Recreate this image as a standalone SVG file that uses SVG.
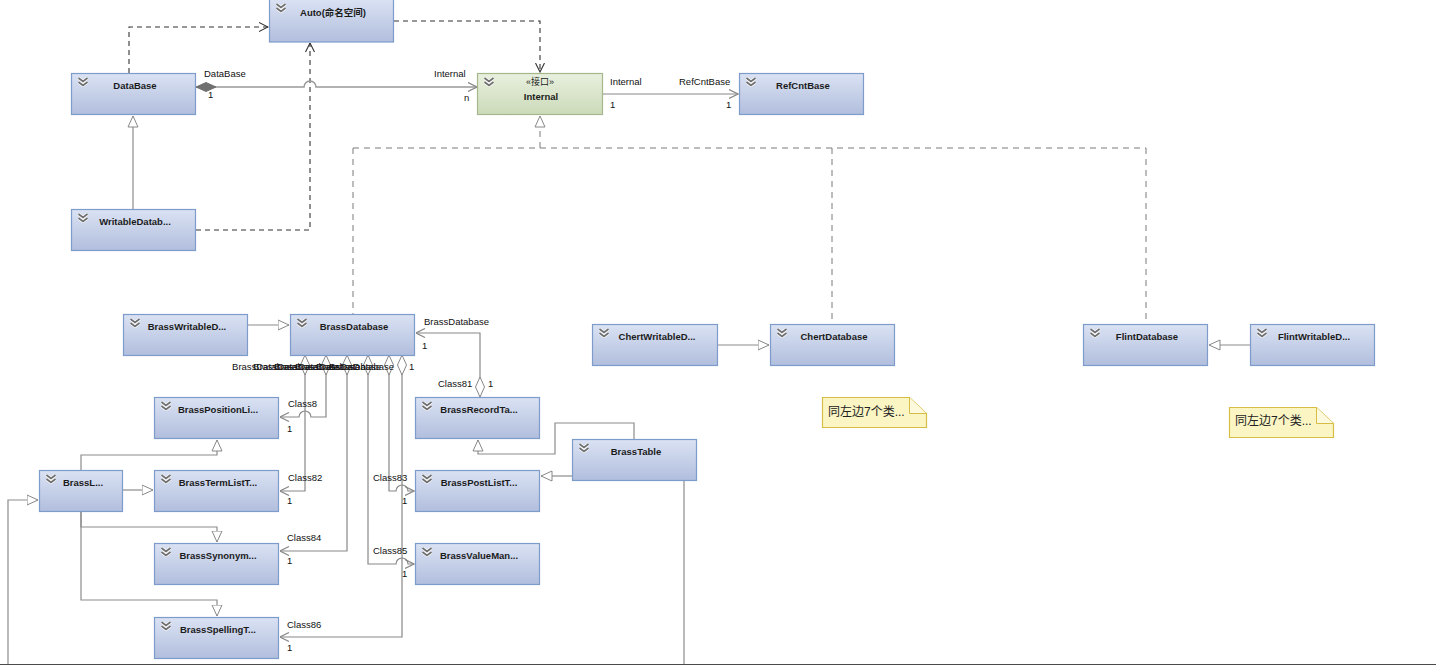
<svg xmlns="http://www.w3.org/2000/svg" xmlns:xlink="http://www.w3.org/1999/xlink" width="1436" height="665" viewBox="0 0 1436 665">
<style>
.cls{fill:url(#gBlue);stroke:#7d9ccb;stroke-width:1.2}
.ifc{fill:url(#gGreen);stroke:#a7b78c;stroke-width:1.2}
.t{font-family:"Liberation Sans","Noto Sans CJK SC",sans-serif;font-weight:bold;font-size:9.5px;fill:#1b1b1b;text-anchor:middle}
.st{font-family:"Liberation Sans","Noto Sans CJK SC",sans-serif;font-size:9px;fill:#1b1b1b;text-anchor:middle}
.lb{font-family:"Liberation Sans",sans-serif;font-size:9.5px;fill:#111}
.lbe{font-family:"Liberation Sans",sans-serif;font-size:9.5px;fill:#111;text-anchor:end}
.note{fill:#fbf5c4;stroke:#d6bd45;stroke-width:1.2}
.nt{font-family:"Liberation Sans","Noto Sans CJK SC",sans-serif;font-size:12px;fill:#222}
.dep{fill:none;stroke:#333;stroke-width:1.1;stroke-dasharray:5,4}
.real{fill:none;stroke:#7a7a7a;stroke-width:1;stroke-dasharray:6,5}
.gen{fill:none;stroke:#8c8c8c;stroke-width:1.2}
.asc{fill:none;stroke:#999;stroke-width:1.5}
.asc2{fill:none;stroke:#888;stroke-width:1.2}
</style>
<defs>
<linearGradient id="gBlue" x1="0" y1="0" x2="0" y2="1">
<stop offset="0" stop-color="#dae2f3"/>
<stop offset="1" stop-color="#b1bedd"/>
</linearGradient>
<linearGradient id="gGreen" x1="0" y1="0" x2="0" y2="1">
<stop offset="0" stop-color="#e8f0de"/>
<stop offset="1" stop-color="#ccdab9"/>
</linearGradient>
<symbol id="chev" viewBox="0 0 12 10">
<polyline points="1.5,1 6,4.5 10.5,1" fill="none" stroke="#fff" stroke-width="3"/>
<polyline points="1.5,5 6,8.5 10.5,5" fill="none" stroke="#fff" stroke-width="3"/>
<polyline points="1.5,1 6,4.5 10.5,1" fill="none" stroke="#6e6e6e" stroke-width="1.7"/>
<polyline points="1.5,5 6,8.5 10.5,5" fill="none" stroke="#6e6e6e" stroke-width="1.7"/>
</symbol>
<marker id="openDark" viewBox="0 0 10 10" refX="9.5" refY="5" markerWidth="10" markerHeight="10" markerUnits="userSpaceOnUse" orient="auto">
<path d="M0.5,0.5 L9.5,5 L0.5,9.5" fill="none" stroke="#333" stroke-width="1.1"/>
</marker>
<marker id="openGray" viewBox="0 0 10 10" refX="9.5" refY="5" markerWidth="10" markerHeight="10" markerUnits="userSpaceOnUse" orient="auto">
<path d="M0.5,0.5 L9.5,5 L0.5,9.5" fill="none" stroke="#888" stroke-width="1.2"/>
</marker>
<marker id="tri" viewBox="0 0 12 12" refX="11.5" refY="6" markerWidth="12" markerHeight="12" markerUnits="userSpaceOnUse" orient="auto">
<path d="M0.5,1 L11.5,6 L0.5,11 Z" fill="#fff" stroke="#888" stroke-width="1"/>
</marker>
<marker id="diaH" viewBox="0 0 21 11" refX="0.5" refY="5.5" markerWidth="21" markerHeight="11" markerUnits="userSpaceOnUse" orient="auto">
<path d="M0.5,5.5 L10.5,1 L20.5,5.5 L10.5,10 Z" fill="#fff" stroke="#888" stroke-width="1"/>
</marker>
<marker id="diaF" viewBox="0 0 21 11" refX="0.5" refY="5.5" markerWidth="21" markerHeight="11" markerUnits="userSpaceOnUse" orient="auto">
<path d="M0.5,5.5 L10.5,1 L20.5,5.5 L10.5,10 Z" fill="#707070" stroke="#707070" stroke-width="1"/>
</marker>
</defs>
<rect width="1436" height="665" fill="#fff"/>

<g id="connectors">
<path class="dep" d="M129,73 V27 H268" marker-end="url(#openDark)"/>
<path class="dep" d="M394,21 H540 V72" marker-end="url(#openDark)"/>
<path class="dep" d="M196,230 H310 V43" marker-end="url(#openDark)"/>
<path class="asc" d="M196,87 H304 A6,6 0 0 1 316,87 H477" marker-start="url(#diaF)" marker-end="url(#openGray)"/>
<path class="asc2" d="M603,94 H738" marker-end="url(#openGray)"/>
<path class="gen" d="M133,209 V116" marker-end="url(#tri)"/>
<path class="real" d="M540,148 V116" marker-end="url(#tri)"/>
<path class="real" d="M353,148 H1146"/>
<path class="real" d="M353,148 V314"/>
<path class="real" d="M832,148 V324"/>
<path class="real" d="M1146,148 V324"/>
<path class="gen" d="M248,325 H289" marker-end="url(#tri)"/>
<path class="gen" d="M718,345 H769" marker-end="url(#tri)"/>
<path class="gen" d="M1250,345 H1209" marker-end="url(#tri)"/>
<path class="asc2" d="M480,397 V333 H416" marker-start="url(#diaH)" marker-end="url(#openGray)"/>
<path class="asc2" d="M326,355 V417 H311 A6,6 0 0 0 299,417 H280" marker-start="url(#diaH)" marker-end="url(#openGray)"/>
<path class="asc2" d="M305,355 V491 H280" marker-start="url(#diaH)" marker-end="url(#openGray)"/>
<path class="asc2" d="M347,355 V551 H280" marker-start="url(#diaH)" marker-end="url(#openGray)"/>
<path class="asc2" d="M389,355 V491 H396 A6,6 0 0 1 408,491 H414" marker-start="url(#diaH)" marker-end="url(#openGray)"/>
<path class="asc2" d="M368,355 V564 H396 A6,6 0 0 1 408,564 H414" marker-start="url(#diaH)" marker-end="url(#openGray)"/>
<path class="asc2" d="M402,355 V637 H280" marker-start="url(#diaH)" marker-end="url(#openGray)"/>
<path class="gen" d="M634,439 V423 H555 V454 H478 V440" marker-end="url(#tri)"/>
<path class="gen" d="M572,476 H541" marker-end="url(#tri)"/>
<path class="gen" d="M684,480 V665"/>
<path class="gen" d="M81,470 V455 H217 V440" marker-end="url(#tri)"/>
<path class="gen" d="M123,490 H153" marker-end="url(#tri)"/>
<path class="gen" d="M81,512 V527 H217 V542" marker-end="url(#tri)"/>
<path class="gen" d="M81,512 V600 H217 V616" marker-end="url(#tri)"/>
<path class="gen" d="M8,665 V500 H38" marker-end="url(#tri)"/>
</g>

<g id="connector-labels">
<text class="lb" x="204" y="77">DataBase</text>
<text class="lb" x="208" y="98">1</text>
<text class="lb" x="434" y="77">Internal</text>
<text class="lb" x="464" y="101">n</text>
<text class="lb" x="610" y="85">Internal</text>
<text class="lb" x="679" y="85">RefCntBase</text>
<text class="lb" x="610" y="108">1</text>
<text class="lb" x="726" y="108">1</text>
<text class="lb" x="424" y="325">BrassDatabase</text>
<text class="lb" x="422" y="349">1</text>
<text class="lb" x="438" y="387">Class81</text>
<text class="lb" x="488" y="387">1</text>
<text class="lbe" x="297" y="370">BrassDatabase</text>
<text class="lbe" x="318" y="370">BrassDatabase</text>
<text class="lbe" x="339" y="370">BrassDatabase</text>
<text class="lbe" x="360" y="370">BrassDatabase</text>
<text class="lbe" x="381" y="370">BrassDatabase</text>
<text class="lbe" x="394" y="370">BrassDatabase</text>
<text class="lb" x="409" y="370">1</text>
<text class="lb" x="288" y="407">Class8</text>
<text class="lb" x="287" y="432">1</text>
<text class="lb" x="288" y="481">Class82</text>
<text class="lb" x="287" y="504">1</text>
<text class="lb" x="287" y="541">Class84</text>
<text class="lb" x="287" y="564">1</text>
<text class="lb" x="287" y="628">Class86</text>
<text class="lb" x="287" y="651">1</text>
<text class="lb" x="373" y="481">Class83</text>
<text class="lb" x="402" y="504">1</text>
<text class="lb" x="373" y="554">Class85</text>
<text class="lb" x="402" y="577">1</text>
</g>

<g id="n-Auto"><rect class="cls" x="269.5" y="-1" width="124" height="43"/><use href="#chev" x="275" y="3" width="12" height="10"/><text class="t" x="333" y="16">Auto(命名空间)</text></g>
<g id="n-DataBase"><rect class="cls" x="71.5" y="73.5" width="124" height="41"/><use href="#chev" x="77" y="77" width="12" height="10"/><text class="t" x="135" y="89">DataBase</text></g>
<g id="n-Internal"><rect class="ifc" x="477.5" y="73.5" width="125" height="41"/><use href="#chev" x="483" y="77" width="12" height="10"/><text class="st" x="540" y="85">«接口»</text><text class="t" x="541" y="100">Internal</text></g>
<g id="n-RefCntBase"><rect class="cls" x="739.5" y="73.5" width="124" height="41"/><use href="#chev" x="745" y="77" width="12" height="10"/><text class="t" x="803" y="89">RefCntBase</text></g>
<g id="n-WritableDatabase"><rect class="cls" x="71.5" y="209.5" width="124" height="41"/><use href="#chev" x="77" y="213" width="12" height="10"/><text class="t" x="135" y="225">WritableDatab...</text></g>
<g id="n-BrassWritableDatabase"><rect class="cls" x="123.5" y="314.5" width="124" height="41"/><use href="#chev" x="129" y="318" width="12" height="10"/><text class="t" x="187" y="330">BrassWritableD...</text></g>
<g id="n-BrassDatabase"><rect class="cls" x="290.5" y="314.5" width="124" height="41"/><use href="#chev" x="296" y="318" width="12" height="10"/><text class="t" x="354" y="330">BrassDatabase</text></g>
<g id="n-BrassPositionList"><rect class="cls" x="154.5" y="397.5" width="124" height="41"/><use href="#chev" x="160" y="401" width="12" height="10"/><text class="t" x="218" y="413">BrassPositionLi...</text></g>
<g id="n-BrassL"><rect class="cls" x="39.5" y="470.5" width="83" height="41"/><use href="#chev" x="45" y="474" width="12" height="10"/><text class="t" x="83" y="486">BrassL...</text></g>
<g id="n-BrassTermList"><rect class="cls" x="154.5" y="470.5" width="124" height="41"/><use href="#chev" x="160" y="474" width="12" height="10"/><text class="t" x="218" y="486">BrassTermListT...</text></g>
<g id="n-BrassSynonym"><rect class="cls" x="154.5" y="543.5" width="124" height="41"/><use href="#chev" x="160" y="547" width="12" height="10"/><text class="t" x="218" y="559">BrassSynonym...</text></g>
<g id="n-BrassSpelling"><rect class="cls" x="154.5" y="617.5" width="124" height="41"/><use href="#chev" x="160" y="621" width="12" height="10"/><text class="t" x="218" y="633">BrassSpellingT...</text></g>
<g id="n-BrassRecordTable"><rect class="cls" x="415.5" y="397.5" width="124" height="41"/><use href="#chev" x="421" y="401" width="12" height="10"/><text class="t" x="479" y="413">BrassRecordTa...</text></g>
<g id="n-BrassTable"><rect class="cls" x="572.5" y="439.5" width="124" height="41"/><use href="#chev" x="578" y="443" width="12" height="10"/><text class="t" x="636" y="455">BrassTable</text></g>
<g id="n-BrassPostList"><rect class="cls" x="415.5" y="470.5" width="124" height="41"/><use href="#chev" x="421" y="474" width="12" height="10"/><text class="t" x="479" y="486">BrassPostListT...</text></g>
<g id="n-BrassValueManager"><rect class="cls" x="415.5" y="543.5" width="124" height="41"/><use href="#chev" x="421" y="547" width="12" height="10"/><text class="t" x="479" y="559">BrassValueMan...</text></g>
<g id="n-ChertWritableDatabase"><rect class="cls" x="592.5" y="324.5" width="125" height="41"/><use href="#chev" x="598" y="328" width="12" height="10"/><text class="t" x="657" y="340">ChertWritableD...</text></g>
<g id="n-ChertDatabase"><rect class="cls" x="770.5" y="324.5" width="124" height="41"/><use href="#chev" x="776" y="328" width="12" height="10"/><text class="t" x="834" y="340">ChertDatabase</text></g>
<g id="n-FlintDatabase"><rect class="cls" x="1083.5" y="324.5" width="124" height="41"/><use href="#chev" x="1089" y="328" width="12" height="10"/><text class="t" x="1147" y="340">FlintDatabase</text></g>
<g id="n-FlintWritableDatabase"><rect class="cls" x="1250.5" y="324.5" width="124" height="41"/><use href="#chev" x="1256" y="328" width="12" height="10"/><text class="t" x="1314" y="340">FlintWritableD...</text></g>

<g id="note-1"><path class="note" d="M822.5,397.5 H909.5 L926.5,413.5 V427.5 H822.5 Z"/><path d="M909.5,397.5 V413.5 H926.5" fill="#fdf9dc" stroke="#d6bd45" stroke-width="1"/><text class="nt" x="828" y="416">同左边7个类...</text></g>
<g id="note-2"><path class="note" d="M1229.5,407.5 H1316.5 L1333.5,423.5 V437.5 H1229.5 Z"/><path d="M1316.5,407.5 V423.5 H1333.5" fill="#fdf9dc" stroke="#d6bd45" stroke-width="1"/><text class="nt" x="1235" y="425">同左边7个类...</text></g>

<line x1="0" y1="664.5" x2="1436" y2="664.5" stroke="#4a4a4a" stroke-width="1"/>
</svg>
